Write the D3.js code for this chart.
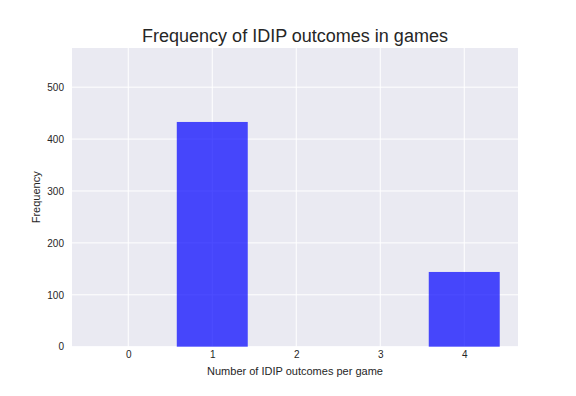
<!DOCTYPE html>
<html><head><meta charset="utf-8">
<script src="https://cdn.jsdelivr.net/npm/d3@7"></script>
<style>
html,body{margin:0;padding:0;background:#fff;}
text{font-family:Arial,"Liberation Sans",sans-serif;fill:#262626;}
</style></head>
<body><svg id="c" width="576" height="396"></svg>
<script>
const categories = [1, 4];
const frequencies = [433, 144];
const xTicks = [0, 1, 2, 3, 4];
const yTicks = [0, 100, 200, 300, 400, 500];
const barWidth = 0.845;

const svg = d3.select("#c");
const m = {l:72, r:518, t:48, b:346.7};
const x = d3.scaleLinear().domain([-0.67, 4.64]).range([m.l, m.r]);
const y = d3.scaleLinear().domain([0, 575.5]).range([m.b, m.t]);

svg.append("rect").attr("x", m.l).attr("y", m.t).attr("width", m.r-m.l).attr("height", m.b-m.t).attr("fill", "#EAEAF2");

const gx = svg.append("g").attr("transform", `translate(0,${m.b})`)
  .call(d3.axisBottom(x).tickValues(xTicks).tickFormat(d3.format("d")).tickSize(0).tickPadding(4));
gx.select(".domain").remove();
gx.selectAll("text").attr("font-size", 10).attr("fill", "#262626").style("font-family","Arial");
svg.append("g").selectAll("line").data(xTicks).join("line")
  .attr("x1", d=>x(d)).attr("x2", d=>x(d)).attr("y1", m.t).attr("y2", m.b)
  .attr("stroke", "#fff").attr("stroke-width", 1);

const gy = svg.append("g").attr("transform", `translate(${m.l},0)`)
  .call(d3.axisLeft(y).tickValues(yTicks).tickFormat(d3.format("d")).tickSize(0).tickPadding(8));
gy.select(".domain").remove();
gy.selectAll("text").attr("font-size", 10).attr("fill", "#262626").style("font-family","Arial");
svg.append("g").selectAll("line").data(yTicks).join("line")
  .attr("x1", m.l).attr("x2", m.r).attr("y1", d=>y(d)).attr("y2", d=>y(d))
  .attr("stroke", "#fff").attr("stroke-width", 1);

svg.append("g").selectAll("rect").data(categories).join("rect")
  .attr("x", d=>x(d - barWidth/2)).attr("width", d=>x(d + barWidth/2) - x(d - barWidth/2))
  .attr("y", (d,i)=>y(frequencies[i])).attr("height", (d,i)=>y(0)-y(frequencies[i]))
  .attr("fill", "#0000ff").attr("fill-opacity", 0.7);

svg.append("text").attr("x", (m.l+m.r)/2).attr("y", 41.7).attr("text-anchor","middle")
  .attr("font-size", 18).text("Frequency of IDIP outcomes in games");
svg.append("text").attr("x", (m.l+m.r)/2).attr("y", 375).attr("text-anchor","middle")
  .attr("font-size", 11).text("Number of IDIP outcomes per game");
svg.append("text").attr("transform", `translate(40,${(m.t+m.b)/2}) rotate(-90)`).attr("text-anchor","middle")
  .attr("font-size", 11).text("Frequency");
</script></body></html>
